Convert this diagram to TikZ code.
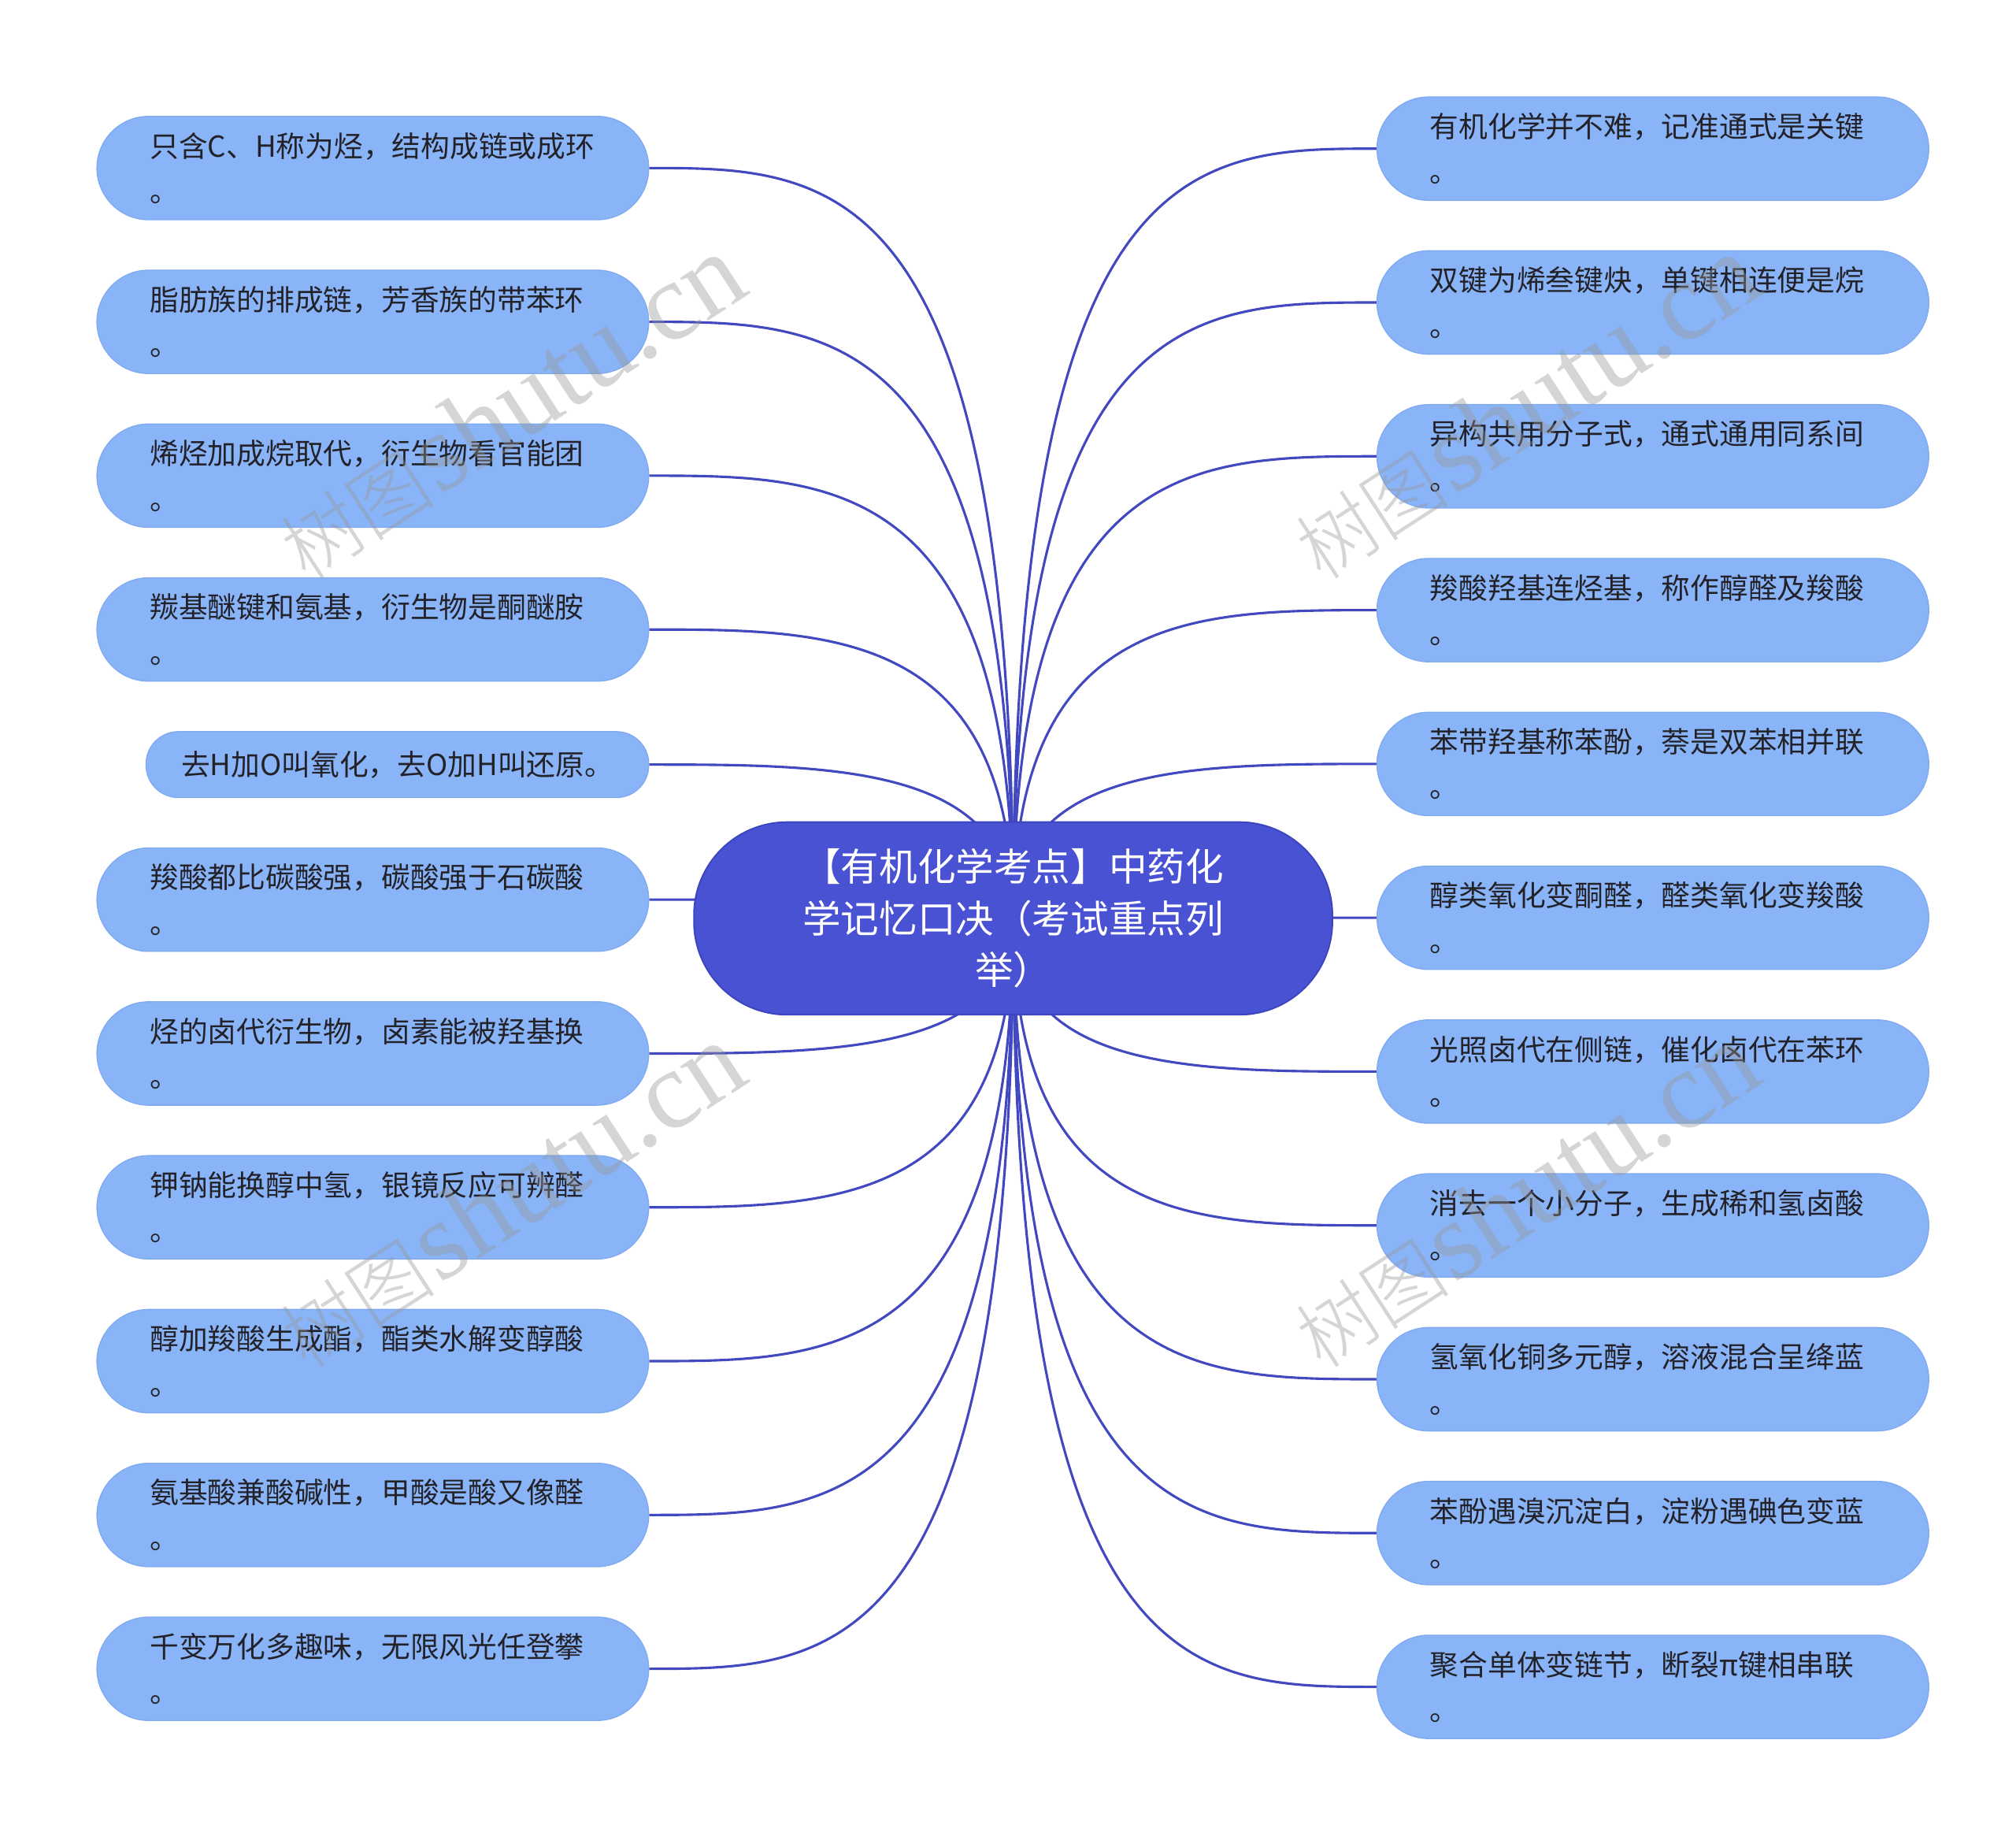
\documentclass[tikz,border=0pt]{standalone}
\usepackage{fontspec}
\setmainfont{Noto Sans CJK SC}
\newfontfamily\wmserif{Liberation Serif}
\newfontfamily\wmcjk{Noto Sans CJK SC Light}
\usetikzlibrary{calc}
\pgfdeclarelayer{bg}
\pgfsetlayers{bg,main}
\definecolor{leaf}{RGB}{138,180,248}
\definecolor{leafedge}{RGB}{128,170,240}
\definecolor{leaftext}{RGB}{34,34,40}
\definecolor{hub}{RGB}{74,82,212}
\definecolor{hubedge}{RGB}{60,68,190}
\definecolor{linkc}{RGB}{66,73,192}
\definecolor{wm}{RGB}{150,150,150}
\tikzset{
  leafbox/.style={draw=leafedge, line width=0.8pt, fill=leaf, rounded corners=40pt,
    minimum height=80pt, text width=345pt, inner xsep=41pt, inner ysep=0pt,
    align=left, text=leaftext, font=\fontsize{22.4pt}{35pt}\selectfont},
  shortbox/.style={draw=leafedge, line width=0.8pt, fill=leaf, rounded corners=25pt,
    minimum height=51pt, minimum width=389pt, inner xsep=27pt, inner ysep=0pt,
    text=leaftext, font=\fontsize{22.4pt}{35pt}\selectfont},
  hubbox/.style={draw=hubedge, line width=1.2pt, fill=hub, rounded corners=72pt,
    minimum height=149pt, minimum width=494pt, text width=360pt, align=center,
    text=white, font=\fontsize{29.6pt}{40pt}\selectfont},
  conn/.style={draw=linkc, line width=1.9pt},
  wmark/.style={text=wm, opacity=0.4, rotate=33, inner sep=0pt}
}
\begin{document}
\begin{tikzpicture}[x=1pt,y=-1pt]
\useasboundingbox (0,0) rectangle (1560,1414.4);
\node[hubbox] (c) at (784,710.5) {【有机化学考点】中药化\\学记忆口决（考试重点列\\举）};
% left column
\node[leafbox] (L1) at (288.5,130) {只含C、H称为烃，结构成链或成环\\。};
\node[leafbox] (L2) at (288.5,249) {脂肪族的排成链，芳香族的带苯环\\。};
\node[leafbox] (L3) at (288.5,368) {烯烃加成烷取代，衍生物看官能团\\。};
\node[leafbox] (L4) at (288.5,487) {羰基醚键和氨基，衍生物是酮醚胺\\。};
\node[shortbox] (L5) at (307.5,591.5) {去H加O叫氧化，去O加H叫还原。};
\node[leafbox] (L6) at (288.5,696) {羧酸都比碳酸强，碳酸强于石碳酸\\。};
\node[leafbox] (L7) at (288.5,815) {烃的卤代衍生物，卤素能被羟基换\\。};
\node[leafbox] (L8) at (288.5,934) {钾钠能换醇中氢，银镜反应可辨醛\\。};
\node[leafbox] (L9) at (288.5,1053) {醇加羧酸生成酯，酯类水解变醇酸\\。};
\node[leafbox] (L10) at (288.5,1172) {氨基酸兼酸碱性，甲酸是酸又像醛\\。};
\node[leafbox] (L11) at (288.5,1291) {千变万化多趣味，无限风光任登攀\\。};
% right column
\node[leafbox] (R1) at (1279,115) {有机化学并不难，记准通式是关键\\。};
\node[leafbox] (R2) at (1279,234) {双键为烯叁键炔，单键相连便是烷\\。};
\node[leafbox] (R3) at (1279,353) {异构共用分子式，通式通用同系间\\。};
\node[leafbox] (R4) at (1279,472) {羧酸羟基连烃基，称作醇醛及羧酸\\。};
\node[leafbox] (R5) at (1279,591) {苯带羟基称苯酚，萘是双苯相并联\\。};
\node[leafbox] (R6) at (1279,710) {醇类氧化变酮醛，醛类氧化变羧酸\\。};
\node[leafbox] (R7) at (1279,829) {光照卤代在侧链，催化卤代在苯环\\。};
\node[leafbox] (R8) at (1279,948) {消去一个小分子，生成稀和氢卤酸\\。};
\node[leafbox] (R9) at (1279,1067) {氢氧化铜多元醇，溶液混合呈绛蓝\\。};
\node[leafbox] (R10) at (1279,1186) {苯酚遇溴沉淀白，淀粉遇碘色变蓝\\。};
\node[leafbox] (R11) at (1279,1305) {聚合单体变链节，断裂π键相串联\\。};
\begin{pgfonlayer}{bg}
\foreach \n in {L1,L2,L3,L4,L5,L6,L7,L8,L9,L10,L11}{
  \draw[conn] (c.center) .. controls (c.center |- \n.east) and ($(c.center |- \n.east)!0.5!(\n.east)$) .. (\n.east);
}
\foreach \n in {R1,R2,R3,R4,R5,R6,R7,R8,R9,R10,R11}{
  \draw[conn] (c.center) .. controls (c.center |- \n.west) and ($(c.center |- \n.west)!0.5!(\n.west)$) .. (\n.west);
}
\end{pgfonlayer}
% watermarks
\foreach \p/\nm in {{(395,315)}/w1,{(1180,315)}/w2,{(395,925)}/w3,{(1180,925)}/w4}{
  \node[wmark] (\nm) at \p {{\wmcjk\fontsize{60pt}{60pt}\selectfont 树图} {\wmserif\fontsize{86pt}{86pt}\selectfont shutu.cn}};
}
\end{tikzpicture}
\end{document}
